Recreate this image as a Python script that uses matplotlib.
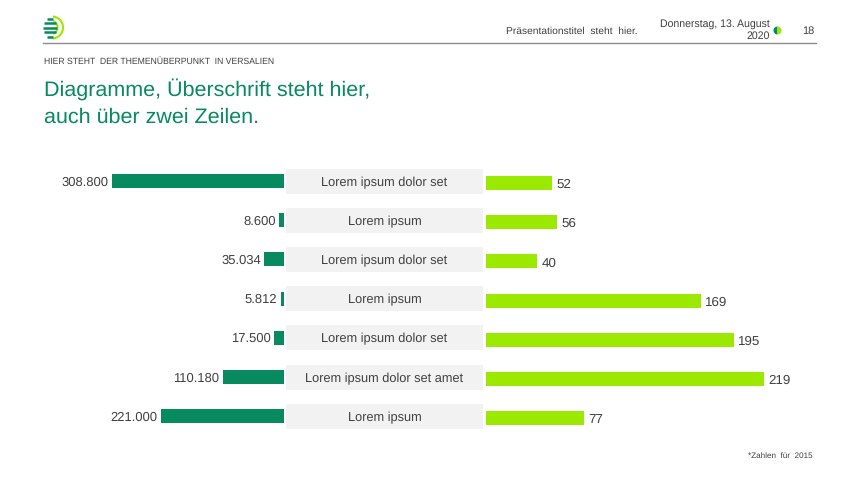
import numpy as np
import matplotlib
matplotlib.use('Agg')
import matplotlib.pyplot as plt
from matplotlib.patches import Arc, Rectangle, Wedge

plt.rcParams['font.family'] = ['Liberation Sans', 'DejaVu Sans']
plt.rcParams['text.hinting'] = 'no_hinting'

W, H = 850, 478

''' DATA '''
categories = ['Lorem ipsum dolor set', 'Lorem ipsum', 'Lorem ipsum dolor set', 'Lorem ipsum',
              'Lorem ipsum dolor set', 'Lorem ipsum dolor set amet', 'Lorem ipsum']
left_values = [308800, 8600, 35034, 5812, 17500, 110180, 221000]
left_labels = ['308.800', '8.600', '35.034', '5.812', '17.500', '110.180', '221.000']
right_values = [52, 56, 40, 169, 195, 219, 77]

DARK = '#068A5E'
LIME = '#9BE800'
GREY = '#F2F2F2'
TEXT = '#404040'

fig = plt.figure(figsize=(W / 100, H / 100), dpi=100, facecolor='white')

# page layer in pixel coordinates
page = fig.add_axes([0, 0, 1, 1])
page.set_xlim(0, W)
page.set_ylim(H, 0)
page.axis('off')

# logo
for y0, x0, x1 in [(18.5, 47, 53), (23, 44, 56), (27.5, 43, 57), (32, 44, 56), (36.5, 47, 53)]:
    page.plot([x0, x1], [y0, y0], color=DARK, lw=1.8, solid_capstyle='butt')
page.add_patch(Arc((52, 27.5), 22, 22, theta1=-85, theta2=85, color=LIME, lw=1.5))
page.add_patch(Arc((52, 27.5), 11, 13, theta1=-80, theta2=80, color=LIME, lw=1.5))

# header
page.plot([43, 816], [43, 43], color='#8C8C8C', lw=1.0)
page.text(638, 31, 'Präsentationstitel  steht  hier.', fontsize=7.35, color=TEXT, ha='right', va='center')
page.text(770, 23.5, 'Donnerstag, 13. August', fontsize=7.6, color=TEXT, ha='right', va='center')
page.text(770, 36, '2020', fontsize=7.6, color=TEXT, ha='right', va='center')
page.add_patch(Wedge((777.5, 30.5), 4, 90, 270, color=DARK, lw=0))
page.add_patch(Wedge((777.5, 30.5), 4, -90, 90, color=LIME, lw=0))
page.text(814, 31, '18', fontsize=7.9, color=TEXT, ha='right', va='center')

# headline
page.text(44, 61.5, 'HIER STEHT  DER THEMENÜBERPUNKT  IN VERSALIEN', fontsize=6.2, color=TEXT, va='center')
page.text(44, 95.5, 'Diagramme, Überschrift steht hier,', fontsize=15.45, color=DARK, va='baseline')
page.text(44, 122.5, 'auch über zwei Zeilen.', fontsize=15.45, color=DARK, va='baseline')
page.text(813, 455.5, '*Zahlen  für  2015', fontsize=5.85, color=TEXT, ha='right', va='center')

y = np.arange(len(categories))
row = 39.2

# category boxes in the middle
for i, name in enumerate(categories):
    yc = 181 + i * row
    page.add_patch(Rectangle((286, yc - 12.5), 197, 25, color=GREY, lw=0))
    page.text(384.5, yc + 1.5, name, fontsize=9.2, color=TEXT, ha='center', va='center')

# left bars grow leftwards from x=284
ax_l = fig.add_axes([44 / W, 1 - (181 + 6.5 * row) / H, 240 / W, 7 * row / H])
ax_l.barh(y, left_values, height=14 / row, color=DARK)
ax_l.set_xlim(240 * 308800 / 172, 0)
ax_l.set_ylim(6.5, -0.5)
ax_l.axis('off')
for i, v in enumerate(left_values):
    ax_l.annotate(left_labels[i], (v, y[i]), xytext=(-2.5, -0.8), textcoords='offset points',
                  ha='right', va='center', fontsize=9.4, color=TEXT)

# right bars grow rightwards from x=486
ax_r = fig.add_axes([486 / W, 1 - (183 + 6.5 * row) / H, 330 / W, 7 * row / H])
ax_r.barh(y, right_values, height=14 / row, color=LIME)
ax_r.set_xlim(0, 330 / 1.27)
ax_r.set_ylim(6.5, -0.5)
ax_r.axis('off')
for i, v in enumerate(right_values):
    ax_r.annotate(str(v), (v, y[i]), xytext=(3.2, -1.2), textcoords='offset points',
                  ha='left', va='center', fontsize=9.6, color=TEXT)

fig.savefig('out.png', dpi=100)
